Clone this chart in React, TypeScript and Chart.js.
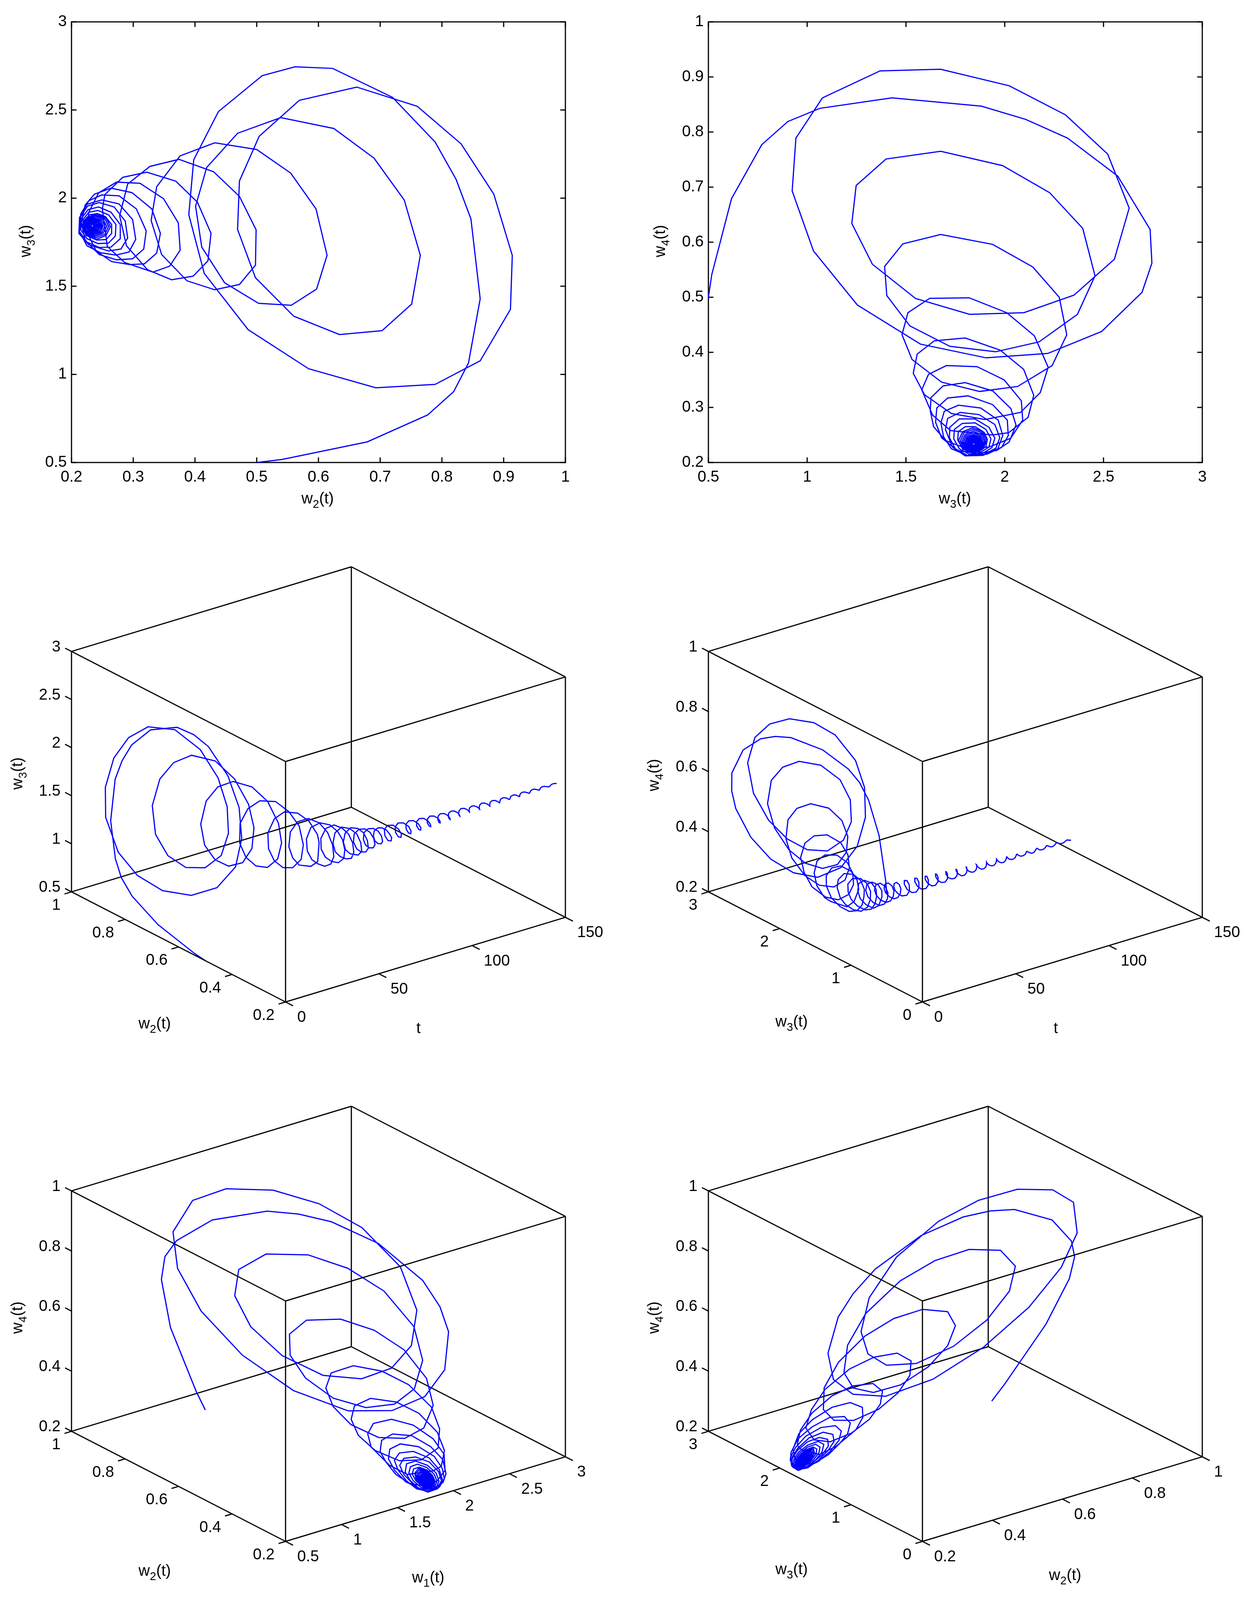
import { useEffect, useRef } from 'react';
import { Chart, registerables } from 'chart.js';

Chart.register(...registerables);

// trajectory samples, same index in every array
const t = [
  0, 0.05, 0.3, 0.55, 0.75, 1, 1.2,
  1.46, 1.71, 1.97, 2.22, 2.48, 2.74, 2.99, 3.25, 3.5, 3.76, 4.02, 4.27, 4.53, 4.78, 5.04, 5.3, 5.55, 5.8,
  6.07, 6.34, 6.61, 6.89, 7.16, 7.43, 7.7, 7.97, 8.24, 8.51, 8.79, 9.06, 9.33, 9.6,
  9.93, 10.26, 10.59, 10.92, 11.25, 11.58, 11.91, 12.24, 12.57, 12.9, 13.23, 13.56, 13.9,
  14.25, 14.6, 14.96, 15.31, 15.67, 16.02, 16.37, 16.73, 17.08, 17.44, 17.79, 18.14, 18.5,
  18.87, 19.24, 19.61, 19.98, 20.35, 20.72, 21.09, 21.46, 21.83, 22.2, 22.57, 22.94,
  23.31, 23.68, 24.05, 24.42, 24.79, 25.16, 25.53, 25.9, 26.27, 26.64, 27.01, 27.38,
  27.75, 28.12, 28.49, 28.86, 29.23, 29.6, 29.97, 30.34, 30.71, 31.08, 31.45, 31.82,
  32.19, 32.56, 32.93, 33.3, 33.67, 34.04, 34.41, 34.78, 35.15, 35.52, 35.89, 36.26,
  36.63, 37, 37.37, 37.74, 38.11, 38.48, 38.85, 39.22, 39.59, 39.96, 40.33, 40.7,
  41.07, 41.44, 41.81, 42.18, 42.55, 42.92, 43.29, 43.66, 44.03, 44.4, 44.77, 45.14,
  45.51, 45.88, 46.25, 46.62, 46.99, 47.36, 47.73, 48.1, 48.47, 48.84, 49.21, 49.58,
  50.1, 50.55, 51, 51.45, 51.9, 52.35, 52.8, 53.25, 53.7, 54.15,
  54.6, 55.05, 55.5, 55.95, 56.4, 56.85, 57.3, 57.75, 58.2, 58.65,
  59.3, 60, 60.6, 61.3, 62, 62.6, 63.3, 64,
  64.7, 65.3, 66, 66.7, 67.4, 68, 68.7, 69.4,
  70, 70.7, 71.4, 72, 72.7, 73.4, 74, 74.7,
  75.4, 76, 76.7, 77.4, 78, 78.7, 79.4, 80,
  80.7, 81.4, 82.1, 82.7, 83.4, 84.1, 84.7, 85.4,
  86.1, 86.7, 87.4, 88.1, 88.8, 89.4, 90.1, 90.8,
  91.4, 92.1, 92.8, 93.4, 94.1, 94.8, 95.4, 96.1,
  96.8, 97.4, 98.1, 98.8, 99.5, 100.1, 100.8, 101.5,
  102.1, 102.8, 103.5, 104.1, 104.8, 105.5, 106.1, 106.8,
  107.5, 108.1, 108.8, 109.5, 110.2, 110.8, 111.5, 112.2,
  112.9, 113.5, 114.2, 114.9, 115.5, 116.2, 116.9, 117.5,
  118.2, 118.9, 119.5, 120.2, 120.9, 121.6, 122.2, 122.9,
  123.6, 124.2, 124.9, 125.6, 126.2, 126.9, 127.6, 128.2,
  128.9, 129.6, 130.2, 130.9, 131.6, 132.2, 132.9, 133.6,
  134.3, 134.9, 135.6, 136.3, 136.9, 137.6, 138.3, 138.9,
  139.6, 140.3, 140.9, 141.6, 142.3, 143, 143.6, 144.3,
  145, 145.6, 146.3, 147, 147.6, 148.3, 149, 149.6,
  150,
];

const w2 = [
  0.5, 0.541, 0.679, 0.777, 0.819, 0.843, 0.862, 0.847, 0.823, 0.789, 0.72, 0.623, 0.562, 0.509, 0.438, 0.398,
  0.39, 0.415, 0.486, 0.584, 0.693, 0.789, 0.862, 0.911, 0.914, 0.884, 0.831, 0.76, 0.662, 0.569, 0.504, 0.472,
  0.469, 0.498, 0.56, 0.634, 0.703, 0.751, 0.765, 0.739, 0.69, 0.625, 0.539, 0.469, 0.419, 0.401, 0.411, 0.448,
  0.503, 0.556, 0.597, 0.614, 0.596, 0.555, 0.5, 0.432, 0.376, 0.338, 0.329, 0.346, 0.387, 0.432, 0.472, 0.498, 0.499,
  0.472, 0.43, 0.374, 0.327, 0.291, 0.278, 0.289, 0.323, 0.362, 0.397, 0.421, 0.426,
  0.404, 0.369, 0.322, 0.283, 0.254, 0.25, 0.258, 0.286, 0.332, 0.359, 0.376, 0.373,
  0.349, 0.311, 0.273, 0.244, 0.228, 0.226, 0.24, 0.265, 0.294, 0.318, 0.338, 0.344,
  0.33, 0.298, 0.264, 0.237, 0.222, 0.216, 0.222, 0.245, 0.273, 0.299, 0.317, 0.321,
  0.305, 0.277, 0.249, 0.228, 0.215, 0.213, 0.225, 0.247, 0.272, 0.293, 0.304, 0.299,
  0.277, 0.249, 0.225, 0.213, 0.212, 0.228, 0.26, 0.28, 0.291, 0.287, 0.269, 0.245,
  0.226, 0.214, 0.213, 0.225, 0.245, 0.264, 0.279, 0.279, 0.264, 0.244, 0.227, 0.216,
  0.215, 0.225, 0.243, 0.26, 0.271, 0.272, 0.26, 0.243, 0.228, 0.219,
  0.218, 0.226, 0.241, 0.256, 0.265, 0.265, 0.255, 0.242, 0.229, 0.221,
  0.217, 0.224, 0.24, 0.256, 0.263, 0.256, 0.24, 0.224,
  0.218, 0.224, 0.239, 0.254, 0.26, 0.254, 0.239, 0.224,
  0.219, 0.225, 0.238, 0.251, 0.257, 0.251, 0.238, 0.225,
  0.22, 0.225, 0.237, 0.249, 0.254, 0.249, 0.237, 0.225,
  0.221, 0.225, 0.236, 0.247, 0.251, 0.247, 0.236, 0.225,
  0.223, 0.227, 0.236, 0.245, 0.249, 0.245, 0.236, 0.227,
  0.223, 0.227, 0.235, 0.243, 0.247, 0.243, 0.235, 0.227,
  0.225, 0.228, 0.235, 0.242, 0.245, 0.242, 0.235, 0.228,
  0.225, 0.228, 0.234, 0.24, 0.243, 0.24, 0.234, 0.228,
  0.226, 0.228, 0.234, 0.24, 0.242, 0.24, 0.234, 0.228,
  0.226, 0.228, 0.233, 0.238, 0.24, 0.238, 0.233, 0.228,
  0.227, 0.229, 0.233, 0.237, 0.239, 0.237, 0.233, 0.229,
  0.228, 0.23, 0.233, 0.236, 0.238, 0.236, 0.233, 0.23,
  0.228, 0.229, 0.233, 0.237, 0.238, 0.237, 0.233, 0.229,
  0.229, 0.23, 0.233, 0.236, 0.237, 0.236, 0.233, 0.23,
  0.229, 0.23, 0.233, 0.236, 0.237, 0.236, 0.233, 0.23,
  0.23, 0.231, 0.233, 0.235, 0.236, 0.235, 0.233, 0.231,
  0.233,
];

const w3 = [
  0.5, 0.517, 0.617, 0.77, 0.902, 1.064, 1.429, 1.882, 2.106, 2.318, 2.572, 2.736, 2.745, 2.695, 2.491, 2.218,
  1.906, 1.573, 1.254, 1.032, 0.924, 0.943, 1.077, 1.369, 1.675, 2.023, 2.308, 2.521, 2.63, 2.555, 2.351, 2.097,
  1.822, 1.548, 1.33, 1.226, 1.248, 1.399, 1.676, 1.989, 2.227, 2.395, 2.457, 2.368, 2.174, 1.954, 1.722, 1.52,
  1.403, 1.392, 1.484, 1.676, 1.939, 2.142, 2.276, 2.314, 2.24, 2.065, 1.873, 1.68, 1.531, 1.48, 1.51, 1.62, 1.82,
  2.01, 2.15, 2.22, 2.18, 2.08, 1.9, 1.73, 1.594, 1.537, 1.557, 1.644, 1.8,
  1.977, 2.096, 2.147, 2.118, 2.02, 1.938, 1.726, 1.635, 1.58, 1.614, 1.705, 1.86,
  1.997, 2.084, 2.091, 2.03, 1.92, 1.8, 1.7, 1.64, 1.623, 1.627, 1.688, 1.8,
  1.939, 2.031, 2.057, 2.022, 1.96, 1.86, 1.76, 1.68, 1.65, 1.656, 1.711, 1.814,
  1.939, 2.013, 2.018, 1.985, 1.91, 1.81, 1.73, 1.69, 1.677, 1.694, 1.766, 1.878,
  1.967, 1.99, 1.965, 1.89, 1.8, 1.735, 1.7, 1.711, 1.774, 1.87, 1.95, 1.975,
  1.955, 1.89, 1.81, 1.75, 1.72, 1.722, 1.77, 1.85, 1.92, 1.95, 1.935, 1.885,
  1.82, 1.77, 1.742, 1.745, 1.785, 1.85, 1.905, 1.93, 1.92, 1.88,
  1.825, 1.785, 1.762, 1.765, 1.8, 1.85, 1.895, 1.912, 1.905, 1.875,
  1.838, 1.788, 1.766, 1.788, 1.838, 1.888, 1.91, 1.888,
  1.839, 1.794, 1.775, 1.794, 1.839, 1.884, 1.903, 1.884,
  1.84, 1.8, 1.783, 1.8, 1.84, 1.88, 1.897, 1.88,
  1.84, 1.805, 1.79, 1.805, 1.84, 1.875, 1.89, 1.875,
  1.841, 1.81, 1.797, 1.81, 1.841, 1.872, 1.885, 1.872,
  1.841, 1.814, 1.802, 1.814, 1.841, 1.868, 1.88, 1.868,
  1.842, 1.818, 1.808, 1.818, 1.842, 1.866, 1.876, 1.866,
  1.842, 1.821, 1.812, 1.821, 1.842, 1.863, 1.872, 1.863,
  1.842, 1.824, 1.816, 1.824, 1.842, 1.86, 1.868, 1.86,
  1.843, 1.827, 1.82, 1.827, 1.843, 1.859, 1.866, 1.859,
  1.843, 1.829, 1.823, 1.829, 1.843, 1.857, 1.863, 1.857,
  1.843, 1.831, 1.826, 1.831, 1.843, 1.855, 1.86, 1.855,
  1.843, 1.833, 1.828, 1.833, 1.843, 1.853, 1.858, 1.853,
  1.843, 1.834, 1.83, 1.834, 1.843, 1.852, 1.856, 1.852,
  1.843, 1.835, 1.832, 1.835, 1.843, 1.851, 1.854, 1.851,
  1.843, 1.837, 1.834, 1.837, 1.843, 1.849, 1.852, 1.849,
  1.843, 1.838, 1.835, 1.838, 1.843, 1.848, 1.851, 1.848,
  1.84,
];

// w4 reads the same as w2 wherever both plots can be compared
const w4 = [
  0.5, 0.541, 0.679, 0.777, 0.819, 0.843, 0.862, 0.847, 0.823, 0.789, 0.72, 0.623, 0.562, 0.509, 0.438, 0.398,
  0.39, 0.415, 0.486, 0.584, 0.693, 0.789, 0.862, 0.911, 0.914, 0.884, 0.831, 0.76, 0.662, 0.569, 0.504, 0.472,
  0.469, 0.498, 0.56, 0.634, 0.703, 0.751, 0.765, 0.739, 0.69, 0.625, 0.539, 0.469, 0.419, 0.401, 0.411, 0.448,
  0.503, 0.556, 0.597, 0.614, 0.596, 0.555, 0.5, 0.432, 0.376, 0.338, 0.329, 0.346, 0.387, 0.432, 0.472, 0.498, 0.499,
  0.472, 0.43, 0.373, 0.327, 0.291, 0.278, 0.289, 0.323, 0.362, 0.397, 0.421, 0.426,
  0.404, 0.369, 0.322, 0.282, 0.254, 0.25, 0.258, 0.286, 0.332, 0.36, 0.376, 0.374,
  0.35, 0.312, 0.277, 0.244, 0.228, 0.226, 0.24, 0.265, 0.294, 0.318, 0.339, 0.345,
  0.33, 0.298, 0.268, 0.237, 0.222, 0.216, 0.222, 0.245, 0.273, 0.299, 0.317, 0.321,
  0.305, 0.277, 0.249, 0.228, 0.215, 0.213, 0.225, 0.247, 0.272, 0.293, 0.304, 0.299,
  0.277, 0.249, 0.225, 0.213, 0.212, 0.228, 0.26, 0.28, 0.291, 0.287, 0.269, 0.245,
  0.226, 0.214, 0.213, 0.225, 0.245, 0.264, 0.279, 0.279, 0.264, 0.244, 0.227, 0.216,
  0.215, 0.225, 0.243, 0.26, 0.271, 0.272, 0.26, 0.243, 0.228, 0.219,
  0.218, 0.226, 0.241, 0.256, 0.265, 0.265, 0.255, 0.242, 0.229, 0.221,
  0.217, 0.224, 0.24, 0.256, 0.263, 0.256, 0.24, 0.224,
  0.218, 0.224, 0.239, 0.254, 0.26, 0.254, 0.239, 0.224,
  0.219, 0.225, 0.238, 0.251, 0.257, 0.251, 0.238, 0.225,
  0.22, 0.225, 0.237, 0.249, 0.254, 0.249, 0.237, 0.225,
  0.221, 0.225, 0.236, 0.247, 0.251, 0.247, 0.236, 0.225,
  0.223, 0.227, 0.236, 0.245, 0.249, 0.245, 0.236, 0.227,
  0.223, 0.227, 0.235, 0.243, 0.247, 0.243, 0.235, 0.227,
  0.225, 0.228, 0.235, 0.242, 0.245, 0.242, 0.235, 0.228,
  0.225, 0.228, 0.234, 0.24, 0.243, 0.24, 0.234, 0.228,
  0.226, 0.228, 0.234, 0.24, 0.242, 0.24, 0.234, 0.228,
  0.226, 0.228, 0.233, 0.238, 0.24, 0.238, 0.233, 0.228,
  0.227, 0.229, 0.233, 0.237, 0.239, 0.237, 0.233, 0.229,
  0.228, 0.23, 0.233, 0.236, 0.238, 0.236, 0.233, 0.23,
  0.228, 0.229, 0.233, 0.237, 0.238, 0.237, 0.233, 0.229,
  0.229, 0.23, 0.233, 0.236, 0.237, 0.236, 0.233, 0.23,
  0.229, 0.23, 0.233, 0.236, 0.237, 0.236, 0.233, 0.23,
  0.23, 0.231, 0.233, 0.235, 0.236, 0.235, 0.233, 0.231,
  0.233,
];

const w2Ticks2d = [0.2, 0.3, 0.4, 0.5, 0.6, 0.7, 0.8, 0.9, 1];
const w3Ticks2d = [0.5, 1, 1.5, 2, 2.5, 3];
const w4Ticks2d = [0.2, 0.3, 0.4, 0.5, 0.6, 0.7, 0.8, 0.9, 1];
const w2Ticks3d = [0.2, 0.4, 0.6, 0.8, 1];
const w3Ticks3d = [0, 1, 2, 3];
const w4Ticks3d = [0.2, 0.4, 0.6, 0.8, 1];
const tTicks = [0, 50, 100, 150];

const BLUE = '#0000ff';
const FONT = '"Liberation Sans"';
const FONT_SIZE = 40;
const LINE = 3;

// margins of each canvas round its plot box
const M = { left: 175, right: 120, top: 30, bottom: 130 };
const PLOT_W = 1264;
const PLOT_H = 1134;
const CUBE_H = 1114;

// where the unit cube lands in the plot box (view is the same in all 3d panels)
const FRONT_X = 0.4334;
const RISE_W = 0.5525;
const RISE_V = 0.253;
const RISE_U = 0.1945;

function project(u: number, v: number, w: number) {
  return {
    x: FRONT_X + u * (1 - FRONT_X) - v * FRONT_X,
    y: w * RISE_W + u * RISE_U + v * RISE_V,
  };
}

function drawAxisLabel(ctx: CanvasRenderingContext2D, x: number, y: number, sub: string | null, rotated: boolean) {
  ctx.save();
  ctx.translate(x, y);
  if (rotated) ctx.rotate(-Math.PI / 2);
  ctx.fillStyle = '#000';
  ctx.textBaseline = 'middle';
  const big = `${FONT_SIZE}px ${FONT}`;
  const small = `29px ${FONT}`;
  ctx.font = big;
  if (sub === null) {
    ctx.textAlign = 'center';
    ctx.fillText('t', 0, 0);
    ctx.restore();
    return;
  }
  ctx.textAlign = 'left';
  const a = ctx.measureText('w').width;
  const c = ctx.measureText('(t)').width;
  ctx.font = small;
  const b = ctx.measureText(sub).width;
  let px = -(a + b + c) / 2;
  ctx.font = big;
  ctx.fillText('w', px, -3);
  px += a;
  ctx.font = small;
  ctx.fillText(sub, px, 11);
  px += b;
  ctx.font = big;
  ctx.fillText('(t)', px, -3);
  ctx.restore();
}

interface Panel2d {
  kind: '2d';
  left: number;
  top: number;
  xs: number[];
  ys: number[];
  xRange: [number, number];
  yRange: [number, number];
  xTicks: number[];
  yTicks: number[];
  xSub: string;
  ySub: string;
  xLabelAt: [number, number];
  yLabelAt: [number, number];
}

interface Panel3d {
  kind: '3d';
  left: number;
  top: number;
  us: number[];
  vs: number[];
  ws: number[];
  uRange: [number, number];
  vRange: [number, number];
  wRange: [number, number];
  uTicks: number[];
  vTicks: number[];
  wTicks: number[];
  uSub: string | null;
  vSub: string;
  wSub: string;
  uLabelAt: [number, number];
  vLabelAt: [number, number];
  wLabelAt: [number, number];
}

type Panel = Panel2d | Panel3d;

const LEFT_A = 183;
const LEFT_B = 1813;
const TOP_1 = 50;
const TOP_2 = 1451;
const TOP_3 = 2832;

const panels: Panel[] = [
  {
    kind: '2d', left: LEFT_A, top: TOP_1, xs: w2, ys: w3, xRange: [0.2, 1], yRange: [0.5, 3],
    xTicks: w2Ticks2d, yTicks: w3Ticks2d, xSub: '2', ySub: '3', xLabelAt: [813, 1281], yLabelAt: [70, 617],
  },
  {
    kind: '2d', left: LEFT_B, top: TOP_1, xs: w3, ys: w4, xRange: [0.5, 3], yRange: [0.2, 1],
    xTicks: w3Ticks2d, yTicks: w4Ticks2d, xSub: '3', ySub: '4', xLabelAt: [2444, 1281], yLabelAt: [1694, 617],
  },
  {
    kind: '3d', left: LEFT_A, top: TOP_2, us: t, vs: w2, ws: w3, uRange: [0, 150], vRange: [0.2, 1], wRange: [0.5, 3],
    uTicks: tTicks, vTicks: w2Ticks3d, wTicks: w3Ticks2d, uSub: null, vSub: '2', wSub: '3',
    uLabelAt: [1071, 2634], vLabelAt: [396, 2625], wLabelAt: [49, 1980],
  },
  {
    kind: '3d', left: LEFT_B, top: TOP_2, us: t, vs: w3, ws: w4, uRange: [0, 150], vRange: [0, 3], wRange: [0.2, 1],
    uTicks: tTicks, vTicks: w3Ticks3d, wTicks: w4Ticks3d, uSub: null, vSub: '3', wSub: '4',
    uLabelAt: [2702, 2634], vLabelAt: [2026, 2620], wLabelAt: [1678, 1984],
  },
  {
    kind: '3d', left: LEFT_A, top: TOP_3, us: w3, vs: w2, ws: w4, uRange: [0.5, 3], vRange: [0.2, 1], wRange: [0.2, 1],
    uTicks: w3Ticks2d, vTicks: w2Ticks3d, wTicks: w4Ticks3d, uSub: '1', vSub: '2', wSub: '4',
    uLabelAt: [1096, 4043], vLabelAt: [396, 4026], wLabelAt: [49, 3373],
  },
  {
    kind: '3d', left: LEFT_B, top: TOP_3, us: w2, vs: w3, ws: w4, uRange: [0.2, 1], vRange: [0, 3], wRange: [0.2, 1],
    uTicks: w2Ticks3d, vTicks: w3Ticks3d, wTicks: w4Ticks3d, uSub: '2', vSub: '3', wSub: '4',
    uLabelAt: [2726, 4037], vLabelAt: [2026, 4022], wLabelAt: [1678, 3373],
  },
];

function config2d(p: Panel2d) {
  const originX = p.left - M.left;
  const originY = p.top - M.top;
  const points = p.xs.map((x, i) => ({ x, y: p.ys[i] }));
  const frame = {
    id: 'frame',
    beforeDatasetsDraw(chart: any) {
      const { ctx, chartArea: a, scales } = chart;
      ctx.save();
      ctx.strokeStyle = '#000';
      ctx.lineWidth = LINE;
      ctx.strokeRect(a.left, a.top, a.right - a.left, a.bottom - a.top);
      ctx.beginPath();
      p.xTicks.forEach((v) => {
        const px = scales.x.getPixelForValue(v);
        ctx.moveTo(px, a.bottom);
        ctx.lineTo(px, a.bottom - 13);
        ctx.moveTo(px, a.top);
        ctx.lineTo(px, a.top + 13);
      });
      p.yTicks.forEach((v) => {
        const py = scales.y.getPixelForValue(v);
        ctx.moveTo(a.left, py);
        ctx.lineTo(a.left + 13, py);
        ctx.moveTo(a.right, py);
        ctx.lineTo(a.right - 13, py);
      });
      ctx.stroke();
      ctx.restore();
    },
    afterDraw(chart: any) {
      drawAxisLabel(chart.ctx, p.xLabelAt[0] - originX, p.xLabelAt[1] - originY, p.xSub, false);
      drawAxisLabel(chart.ctx, p.yLabelAt[0] - originX, p.yLabelAt[1] - originY, p.ySub, true);
    },
  };
  const tickFont = { family: FONT, size: FONT_SIZE };
  return {
    type: 'scatter' as const,
    plugins: [frame],
    data: {
      datasets: [
        { data: points, showLine: true, borderColor: BLUE, borderWidth: LINE, pointRadius: 0, tension: 0, clip: false },
      ],
    },
    options: {
      animation: false as const,
      responsive: false,
      devicePixelRatio: 1,
      layout: { padding: { left: M.left - 120, right: M.right, top: M.top, bottom: M.bottom - 70 } },
      plugins: { legend: { display: false }, tooltip: { enabled: false } },
      scales: {
        x: {
          type: 'linear' as const,
          min: p.xRange[0],
          max: p.xRange[1],
          afterBuildTicks: (s: any) => { s.ticks = p.xTicks.map((value) => ({ value })); },
          afterFit: (s: any) => { s.height = 70; },
          grid: { display: false, drawTicks: false },
          border: { display: false },
          ticks: { color: '#000', font: tickFont, padding: 14, autoSkip: false, maxRotation: 0, callback: (v: any) => String(v) },
        },
        y: {
          type: 'linear' as const,
          min: p.yRange[0],
          max: p.yRange[1],
          afterBuildTicks: (s: any) => { s.ticks = p.yTicks.map((value) => ({ value })); },
          afterFit: (s: any) => { s.width = 120; },
          grid: { display: false, drawTicks: false },
          border: { display: false },
          ticks: { color: '#000', font: tickFont, padding: 12, autoSkip: false, callback: (v: any) => String(v) },
        },
      },
    },
  };
}

function config3d(p: Panel3d) {
  const originX = p.left - M.left;
  const originY = p.top - M.top;
  const nu = (v: number) => (v - p.uRange[0]) / (p.uRange[1] - p.uRange[0]);
  const nv = (v: number) => (v - p.vRange[0]) / (p.vRange[1] - p.vRange[0]);
  const nw = (v: number) => (v - p.wRange[0]) / (p.wRange[1] - p.wRange[0]);
  const gap = { x: NaN, y: NaN };

  const path = p.us.map((u, i) => project(nu(u), nv(p.vs[i]), nw(p.ws[i])));

  // box edges as [u,v,w] pairs; the ones touching the near corner go over the curve
  const edge = (a: number[], b: number[]) => [project(a[0], a[1], a[2]), project(b[0], b[1], b[2]), gap];
  const backEdges = [
    ...edge([1, 0, 0], [1, 1, 0]), ...edge([0, 1, 0], [1, 1, 0]), ...edge([1, 1, 0], [1, 1, 1]),
    ...edge([1, 0, 0], [1, 0, 1]), ...edge([0, 1, 0], [0, 1, 1]),
    ...edge([1, 0, 1], [1, 1, 1]), ...edge([0, 1, 1], [1, 1, 1]),
  ];
  const frontEdges = [
    ...edge([0, 0, 0], [1, 0, 0]), ...edge([0, 0, 0], [0, 1, 0]), ...edge([0, 0, 0], [0, 0, 1]),
    ...edge([0, 0, 1], [1, 0, 1]), ...edge([0, 0, 1], [0, 1, 1]),
  ];
  const tickMarks = [
    ...p.uTicks.flatMap((v) => edge([nu(v), 0, 0], [nu(v), -0.035, 0])),
    ...p.vTicks.flatMap((v) => edge([0, nv(v), 0], [-0.025, nv(v), 0])),
    ...p.wTicks.flatMap((v) => edge([0, 1, nw(v)], [0, 1.03, nw(v)])),
  ];
  const black = { showLine: true, borderColor: '#000', borderWidth: LINE, pointRadius: 0, tension: 0, clip: false, spanGaps: false };

  const labels = {
    id: 'labels3d',
    afterDraw(chart: any) {
      const { ctx, scales } = chart;
      const put = (v: string, pt: { x: number; y: number }, dx: number, dy: number, align: CanvasTextAlign) => {
        ctx.textAlign = align;
        ctx.fillText(v, scales.x.getPixelForValue(pt.x) + dx, scales.y.getPixelForValue(pt.y) + dy);
      };
      ctx.save();
      ctx.fillStyle = '#000';
      ctx.font = `${FONT_SIZE}px ${FONT}`;
      ctx.textBaseline = 'middle';
      p.uTicks.forEach((v) => put(String(v), project(nu(v), 0, 0), 30, 40, 'left'));
      p.vTicks.forEach((v) => put(String(v), project(0, nv(v), 0), -28, 35, 'right'));
      p.wTicks.forEach((v) => put(String(v), project(0, 1, nw(v)), -28, -11, 'right'));
      ctx.restore();
      drawAxisLabel(ctx, p.uLabelAt[0] - originX, p.uLabelAt[1] - originY, p.uSub, false);
      drawAxisLabel(ctx, p.vLabelAt[0] - originX, p.vLabelAt[1] - originY, p.vSub, false);
      drawAxisLabel(ctx, p.wLabelAt[0] - originX, p.wLabelAt[1] - originY, p.wSub, true);
    },
  };

  return {
    type: 'scatter' as const,
    plugins: [labels],
    data: {
      datasets: [
        { ...black, data: frontEdges, order: 0 },
        { data: path, showLine: true, borderColor: BLUE, borderWidth: LINE, pointRadius: 0, tension: 0, clip: false, order: 1 },
        { ...black, data: backEdges, order: 2 },
        { ...black, data: tickMarks, order: 2 },
      ],
    },
    options: {
      animation: false as const,
      responsive: false,
      devicePixelRatio: 1,
      layout: { padding: { left: M.left, right: M.right, top: M.top, bottom: M.bottom + (PLOT_H - CUBE_H) } },
      plugins: { legend: { display: false }, tooltip: { enabled: false } },
      scales: {
        x: { type: 'linear' as const, min: 0, max: 1, display: false },
        y: { type: 'linear' as const, min: 0, max: 1, display: false },
      },
    },
  };
}

function PanelChart({ panel }: { panel: Panel }) {
  const ref = useRef<HTMLCanvasElement>(null);

  useEffect(() => {
    if (!ref.current) return;
    const cfg: any = panel.kind === '2d' ? config2d(panel) : config3d(panel);
    const chart = new Chart(ref.current, cfg);
    return () => chart.destroy();
  }, [panel]);

  const w = PLOT_W + M.left + M.right;
  const h = PLOT_H + M.top + M.bottom;
  return (
    <canvas
      ref={ref}
      width={w}
      height={h}
      style={{ position: 'absolute', left: panel.left - M.left, top: panel.top - M.top, width: w, height: h }}
    />
  );
}

export default function App() {
  return (
    <div style={{ position: 'relative', width: 3194, height: 4102, background: '#fff', overflow: 'hidden' }}>
      <style>{'body{margin:0;background:#fff}'}</style>
      {panels.map((panel, i) => (
        <PanelChart key={i} panel={panel} />
      ))}
    </div>
  );
}
